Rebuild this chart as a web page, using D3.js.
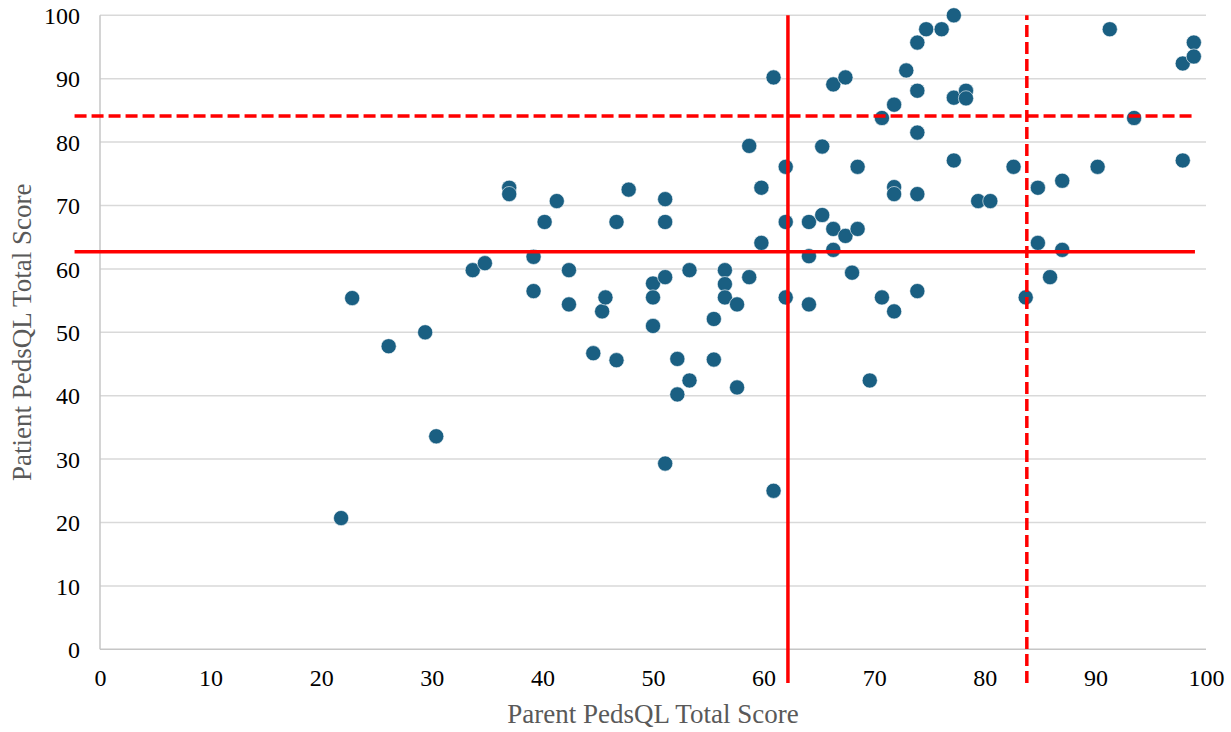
<!DOCTYPE html>
<html>
<head>
<meta charset="utf-8">
<script src="https://cdn.jsdelivr.net/npm/d3@7"></script>
<style>
  html, body { margin: 0; padding: 0; background: #ffffff; }
  svg { display: block; }
</style>
</head>
<body>
<svg id="chart" width="1231" height="732"></svg>
<script>
// Parent vs patient PedsQL total scores
const parentScore = [
  21.8, 22.8, 26.1, 29.4, 30.4, 33.7, 34.8, 37.0, 37.0, 39.2,
  39.2, 40.2, 41.3, 42.4, 42.4, 44.6, 45.4, 45.7, 46.7, 46.7,
  47.8, 50.0, 50.0, 50.0, 51.1, 51.1, 51.1, 51.1, 52.2, 52.2,
  53.3, 53.3, 55.5, 55.5, 56.5, 56.5, 56.5, 57.6, 57.6, 58.7,
  58.7, 59.8, 59.8, 60.9, 60.9, 62.0, 62.0, 62.0, 64.1, 64.1,
  64.1, 65.3, 65.3, 66.3, 66.3, 66.3, 67.4, 67.4, 68.0, 68.5,
  68.5, 69.6, 70.7, 70.7, 71.8, 71.8, 71.8, 71.8, 72.9, 73.9,
  73.9, 73.9, 73.9, 73.9, 74.7, 76.1, 77.2, 77.2, 77.2, 78.3,
  78.3, 79.4, 80.5, 82.6, 83.7, 84.8, 84.8, 85.9, 87.0, 87.0,
  90.2, 91.3, 93.5, 97.9, 97.9, 98.9, 98.9
];
const patientScore = [
  20.7, 55.4, 47.8, 50.0, 33.6, 59.8, 60.9, 72.8, 71.8, 61.9,
  56.5, 67.4, 70.7, 59.8, 54.4, 46.7, 53.3, 55.5, 45.6, 67.4,
  72.5, 57.7, 55.5, 51.0, 71.0, 67.4, 58.7, 29.3, 45.8, 40.2,
  59.8, 42.4, 52.1, 45.7, 59.8, 57.6, 55.5, 54.4, 41.3, 79.4,
  58.7, 72.8, 64.1, 90.2, 25.0, 76.1, 67.4, 55.5, 67.4, 62.0,
  54.4, 79.3, 68.5, 89.1, 66.3, 63.0, 90.2, 65.2, 59.4, 76.1,
  66.3, 42.4, 83.8, 55.5, 85.9, 72.9, 71.8, 53.3, 91.3, 95.7,
  88.1, 81.5, 71.8, 56.5, 97.8, 97.8, 100.0, 87.0, 77.1, 88.1,
  86.9, 70.7, 70.7, 76.1, 55.5, 72.8, 64.1, 58.7, 73.9, 63.0,
  76.1, 97.8, 83.8, 92.4, 77.1, 95.7, 93.5
];

const xTicks = [0, 10, 20, 30, 40, 50, 60, 70, 80, 90, 100];
const yTicks = [0, 10, 20, 30, 40, 50, 60, 70, 80, 90, 100];

// Reference lines: [x1, y1, x2, y2, dashed]
const refLines = [
  [-2.3, 62.7, 99.0, 62.7, false],
  [-2.3, 84.1, 99.0, 84.1, true],
  [62.2, -5.3, 62.2, 100.0, false],
  [83.8, -5.3, 83.8, 100.0, true]
];

const svg = d3.select("#chart");
const plotLeft = 100, plotRight = 1206, plotTop = 15.3, plotBottom = 649.3;

const x = d3.scaleLinear().domain([0, 100]).range([plotLeft, plotRight]);
const y = d3.scaleLinear().domain([0, 100]).range([plotBottom, plotTop]);

const fontFamily = "'Liberation Serif', 'Times New Roman', serif";

// Horizontal gridlines
svg.append("g")
  .selectAll("line")
  .data(yTicks.filter(d => d > 0))
  .join("line")
  .attr("x1", plotLeft).attr("x2", plotRight)
  .attr("y1", d => y(d)).attr("y2", d => y(d))
  .attr("stroke", "#d9d9d9")
  .attr("stroke-width", 1.5);

// Axis lines
svg.append("line")
  .attr("x1", plotLeft).attr("x2", plotRight)
  .attr("y1", plotBottom).attr("y2", plotBottom)
  .attr("stroke", "#c6c6c6").attr("stroke-width", 1.5);
svg.append("line")
  .attr("x1", plotLeft).attr("x2", plotLeft)
  .attr("y1", plotTop).attr("y2", plotBottom)
  .attr("stroke", "#c6c6c6").attr("stroke-width", 1.5);

// Tick labels via axes (domain and ticks hidden)
const xAxis = d3.axisBottom(x).tickValues(xTicks).tickSize(0).tickPadding(0);
const gx = svg.append("g").attr("transform", `translate(0,${plotBottom})`).call(xAxis);
gx.select(".domain").remove();
gx.selectAll("text")
  .attr("y", 36.5)
  .attr("dy", 0)
  .attr("font-family", fontFamily)
  .attr("font-size", 24)
  .attr("fill", "#000");

const yAxis = d3.axisLeft(y).tickValues(yTicks).tickSize(0).tickPadding(0);
const gy = svg.append("g").attr("transform", `translate(${plotLeft},0)`).call(yAxis);
gy.select(".domain").remove();
gy.selectAll("text")
  .attr("x", -20)
  .attr("dy", "0.34em")
  .attr("font-family", fontFamily)
  .attr("font-size", 24)
  .attr("fill", "#000");

// Data points
svg.append("g")
  .selectAll("circle")
  .data(parentScore.map((p, i) => [p, patientScore[i]]))
  .join("circle")
  .attr("cx", d => x(d[0]))
  .attr("cy", d => y(d[1]))
  .attr("r", 7.6)
  .attr("fill", "#1a5f82")
  .attr("stroke", "#ffffff")
  .attr("stroke-width", 0.6);

// Reference lines drawn above the points
svg.append("g")
  .selectAll("line")
  .data(refLines)
  .join("line")
  .attr("x1", d => x(d[0])).attr("y1", d => y(d[1]))
  .attr("x2", d => x(d[2])).attr("y2", d => y(d[3]))
  .attr("stroke", "#ff0000")
  .attr("stroke-width", 3.5)
  .attr("stroke-dasharray", d => d[4] ? "12,5" : null);

// Axis titles
svg.append("text")
  .attr("x", (plotLeft + plotRight) / 2)
  .attr("y", 723)
  .attr("text-anchor", "middle")
  .attr("font-family", fontFamily)
  .attr("font-size", 27)
  .attr("fill", "#595959")
  .text("Parent PedsQL Total Score");

svg.append("text")
  .attr("transform", `translate(31,${(plotTop + plotBottom) / 2}) rotate(-90)`)
  .attr("text-anchor", "middle")
  .attr("font-family", fontFamily)
  .attr("font-size", 27)
  .attr("fill", "#595959")
  .text("Patient PedsQL Total Score");
</script>
</body>
</html>
